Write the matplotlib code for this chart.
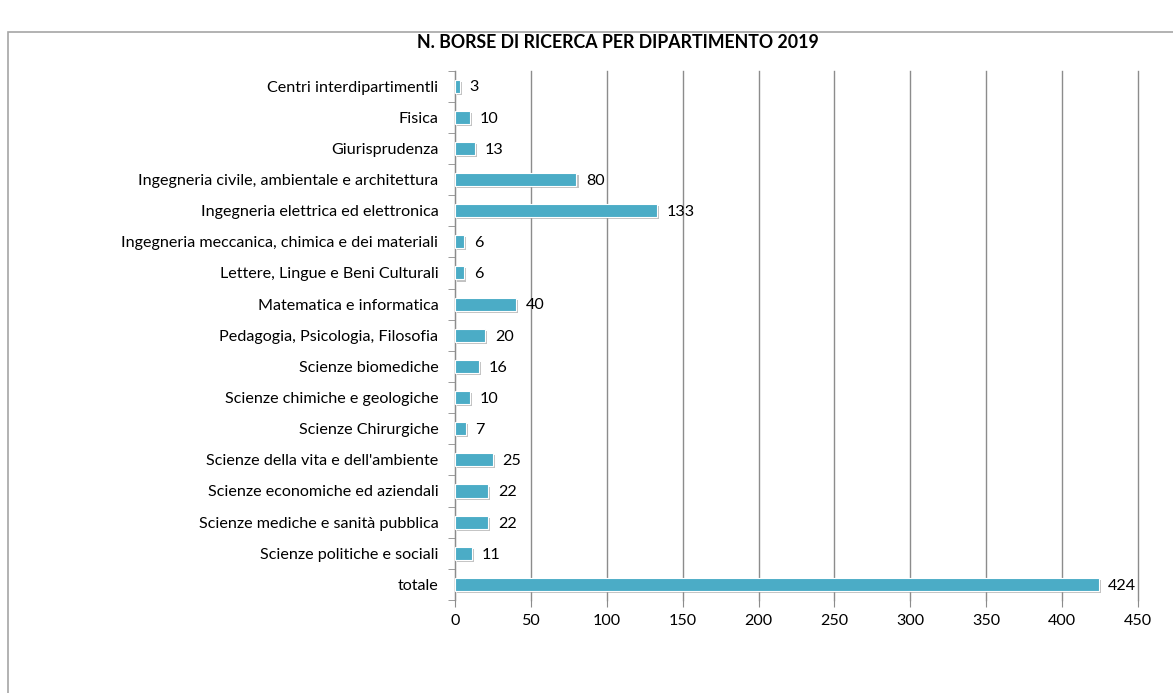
import matplotlib.pyplot as plt
import matplotlib.patheffects as pe
from matplotlib.patches import Rectangle
import numpy as np

plt.rcParams.update({'font.family': ['Lato', 'DejaVu Sans'], 'font.size': 11.6})

#. data
departments = ['Centri interdipartimentli', 'Fisica', 'Giurisprudenza',
               'Ingegneria civile, ambientale e architettura',
               'Ingegneria elettrica ed elettronica',
               'Ingegneria meccanica, chimica e dei materiali',
               'Lettere, Lingue e Beni Culturali', 'Matematica e informatica',
               'Pedagogia, Psicologia, Filosofia', 'Scienze biomediche',
               'Scienze chimiche e geologiche', 'Scienze Chirurgiche',
               "Scienze della vita e dell'ambiente",
               'Scienze economiche ed aziendali',
               'Scienze mediche e sanità pubblica',
               'Scienze politiche e sociali', 'totale']
borse = [3, 10, 13, 80, 133, 6, 6, 40, 20, 16, 10, 7, 25, 22, 22, 11, 424]
x_ticks = [0, 50, 100, 150, 200, 250, 300, 350, 400, 450]

bar_color = '#4BACC6'
grid_color = '#8c8c8c'

#. plotting
fig = plt.figure(figsize=(11.73, 6.93), dpi=100)
ax = fig.add_axes([455/1173, 1-600/693, (1138-455)/1173, (600-70.5)/693])

# chart frame
fig.patches.append(Rectangle((8/1173, -0.05), 1.2, 1-32/693+0.05, transform=fig.transFigure,
                             fill=False, edgecolor='#a6a6a6', lw=1.2))

y = np.arange(len(departments))
bars = ax.barh(y, borse, height=0.42, color=bar_color, edgecolor='white', lw=0.8, zorder=3)
for b in bars:
    b.set_path_effects([pe.SimplePatchShadow(offset=(1.5, -1.5), shadow_rgbFace='#9a9a9a', alpha=0.6),
                        pe.Normal()])

for yi, v in zip(y, borse):
    ax.annotate(str(v), (v, yi), xytext=(7, -1), textcoords='offset points',
                va='center', ha='left', color='black')

ax.set_ylim(len(departments)-0.5, -0.5)
ax.set_xlim(0, 450)
ax.set_xticks(x_ticks)
ax.set_yticks(y)
ax.set_yticklabels(departments)
ax.set_yticks(np.arange(-0.5, len(departments)), minor=True)
ax.tick_params(axis='y', which='major', length=0, pad=12)
ax.tick_params(axis='y', which='minor', length=5, color=grid_color, direction='out')
ax.tick_params(axis='x', length=5, color=grid_color, pad=5)

ax.grid(axis='x', color=grid_color, lw=1, zorder=0)
for gl in ax.get_xgridlines():
    gl.set_clip_on(False)
for s in ['top', 'right', 'bottom']:
    ax.spines[s].set_visible(False)
ax.spines['left'].set_color(grid_color)

fig.text(618/1173, 1-43/693, 'N. BORSE DI RICERCA PER DIPARTIMENTO 2019',
         ha='center', va='center', fontsize=12.8, fontweight='bold')

plt.savefig('out.png', dpi=100)
